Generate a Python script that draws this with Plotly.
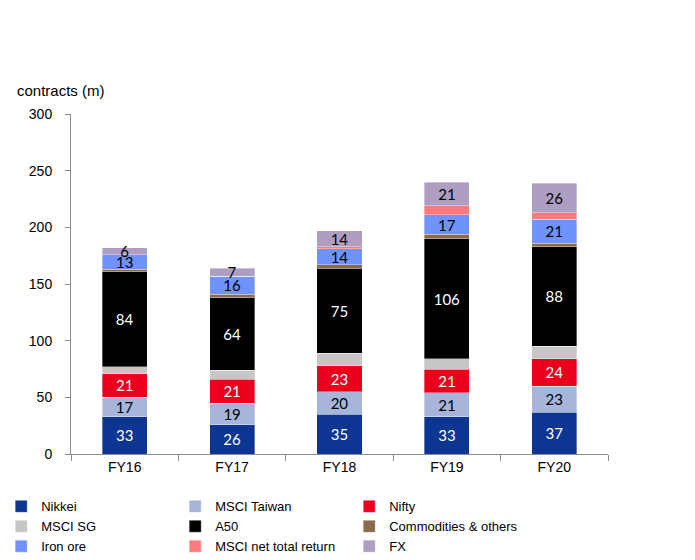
import plotly.graph_objects as go

years = ["FY16", "FY17", "FY18", "FY19", "FY20"]

nikkei = [33, 26, 35, 33, 37]
msci_taiwan = [17, 19, 20, 21, 23]
nifty = [21, 21, 23, 21, 24]
msci_sg = [6, 8, 11, 9, 11]
a50 = [84, 64, 75, 106, 88]
commodities = [2, 3, 3, 4, 3]
iron_ore = [13, 16, 14, 17, 21]
msci_ntr = [0, 0, 2, 8, 6]
fx = [6, 7, 14, 21, 26]

series = [
    ("Nikkei", nikkei, "#0D3592", True, "white"),
    ("MSCI Taiwan", msci_taiwan, "#A7B5DB", True, "black"),
    ("Nifty", nifty, "#E8001C", True, "white"),
    ("MSCI SG", msci_sg, "#C6C6C6", False, "black"),
    ("A50", a50, "#000000", True, "white"),
    ("Commodities & others", commodities, "#8B6B4A", False, "black"),
    ("Iron ore", iron_ore, "#6F93FA", True, "black"),
    ("MSCI net total return", msci_ntr, "#FF7B7B", False, "black"),
    ("FX", fx, "#AE9FC2", True, "black"),
]

fig = go.Figure()
for name, vals, color, labelled, tcol in series:
    fig.add_trace(go.Bar(
        x=years, y=vals, name=name,
        marker=dict(color=color, line=dict(width=0.5, color="rgba(255,255,255,0.7)")),
        text=[str(v) for v in vals] if labelled else None,
        textposition="inside" if labelled else "none",
        insidetextanchor="middle",
        constraintext="none",
        textangle=0,
        textfont=dict(family="Lato, Arial", size=15, color=tcol),
        hoverinfo="skip",
    ))

fig.update_layout(
    barmode="stack",
    bargap=0.58,
    width=695, height=560,
    margin=dict(l=71, r=87, t=114, b=106, autoexpand=False),
    plot_bgcolor="white", paper_bgcolor="white",
    font=dict(family="Liberation Sans, Arial", size=14, color="black"),
    showlegend=True,
    legend=dict(
        orientation="h", x=-0.130, xanchor="left",
        y=-0.11, yanchor="top",
        entrywidth=129, traceorder="normal",
        font=dict(family="Liberation Sans, Arial", size=13, color="black"),
        itemclick=False, itemdoubleclick=False,
    ),
    uniformtext=dict(mode=False),
)
fig.update_xaxes(
    showline=True, linecolor="#8C8C8C", linewidth=1,
    ticks="outside", tickson="boundaries", ticklen=6, tickcolor="#8C8C8C",
    showgrid=False, tickfont=dict(size=14),
)
fig.update_yaxes(
    range=[0, 300], dtick=50, showline=True, linecolor="#8C8C8C", linewidth=1,
    ticks="outside", ticklen=5, tickcolor="#8C8C8C", ticklabelstandoff=10,
    showgrid=False, zeroline=False, tickfont=dict(size=14),
)
fig.add_annotation(
    text="contracts (m)", xref="paper", yref="paper",
    x=-0.104, y=1.068, xanchor="left", yanchor="middle", showarrow=False,
    font=dict(size=15),
)

fig.write_html("out.html")
